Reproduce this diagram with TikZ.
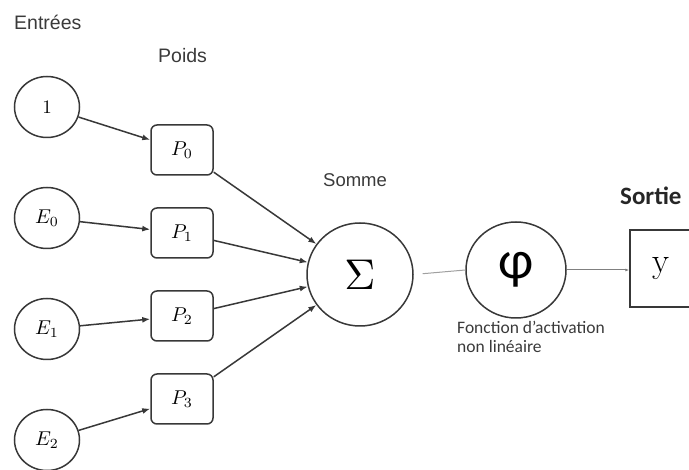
\documentclass[tikz,border=0pt]{standalone}
\usepackage{fontspec}
\newfontfamily\labelfont{Liberation Sans}
\newfontfamily\calfont{Carlito}
\usetikzlibrary{arrows.meta,shapes.geometric}
\definecolor{linegray}{HTML}{383838}
\definecolor{textgray}{HTML}{3A3A3A}
\definecolor{softgray}{HTML}{A0A0A0}
% enlarged math symbol
\newcommand\bigmath[2]{\scalebox{#1}{$#2$}}
\tikzset{
  inputnode/.style={ellipse, draw=linegray, line width=1.5pt, minimum width=65pt,
    minimum height=61pt, inner sep=0pt},
  weightbox/.style={rectangle, rounded corners=6pt, draw=linegray, line width=1.5pt,
    minimum width=62pt, minimum height=50pt, inner sep=0pt},
  bignode/.style={ellipse, draw=linegray, line width=1.5pt, inner sep=0pt},
  link/.style={-{Latex[length=8pt,width=6pt]}, line width=1.5pt, draw=linegray},
  caption/.style={anchor=base west, inner sep=0pt, text=textgray},
}
\begin{document}
\begin{tikzpicture}[x=1pt,y=-1pt]
\useasboundingbox (0,0) rectangle (689,470);

% section titles
\node[caption, font=\labelfont\fontsize{19.5}{22}\selectfont] (tin) at (14,30) {Entrées};
\node[caption, font=\labelfont\fontsize{19.5}{22}\selectfont] (tw) at (158,63) {Poids};
\node[caption, font=\labelfont\fontsize{18.5}{22}\selectfont] (tsum) at (323,187) {Somme};
\node[caption, font=\calfont\bfseries\fontsize{25}{28}\selectfont, text=black!85] (tout) at (620,205) {Sortie};
\node[caption, font=\calfont\fontsize{17.5}{19}\selectfont, align=left] (tact) at (457,353)
  {Fonction d’activation\\[0pt]non linéaire};

% inputs
\node[inputnode] (one) at (47,107) {\bigmath{1.9}{1}};
\node[inputnode] (e0) at (47,218) {\bigmath{2}{E_0}};
\node[inputnode] (e1) at (47,329) {\bigmath{2}{E_1}};
\node[inputnode] (e2) at (47,440) {\bigmath{2}{E_2}};

% weights
\node[weightbox] (p0) at (182,150) {\bigmath{2}{P_0}};
\node[weightbox] (p1) at (182,233) {\bigmath{2}{P_1}};
\node[weightbox] (p2) at (182,316) {\bigmath{2}{P_2}};
\node[weightbox] (p3) at (182,399) {\bigmath{2}{P_3}};

% sum, activation, output
\node[bignode, minimum width=106pt, minimum height=103pt] (sum) at (360,274.5) {\bigmath{4.3}{\Sigma}};
\node[bignode, minimum width=100pt, minimum height=96pt,
  font=\calfont\fontsize{54}{56}\selectfont] (act) at (516,270) {φ};
\node[rectangle, draw=linegray, line width=1.4pt, minimum width=62pt, minimum height=77pt,
  inner sep=0pt, font=\fontsize{35}{38}\selectfont] (out) at (661,268.5) {y};

% connections
\draw[link] (one) -- (p0);
\draw[link] (e0) -- (p1);
\draw[link] (e1) -- (p2);
\draw[link] (e2) -- (p3);
\draw[link] (p0) -- (sum);
\draw[link] (p1) -- (sum);
\draw[link] (p2) -- (sum);
\draw[link] (p3) -- (sum);
\draw[softgray, line width=1pt, shorten <=9pt] (sum.east) -- (act.west);
\draw[softgray!80!black, line width=1pt, -{Latex[length=4pt,width=3pt]}] (act.east) -- (act.east -| out.west);
\end{tikzpicture}
\end{document}
